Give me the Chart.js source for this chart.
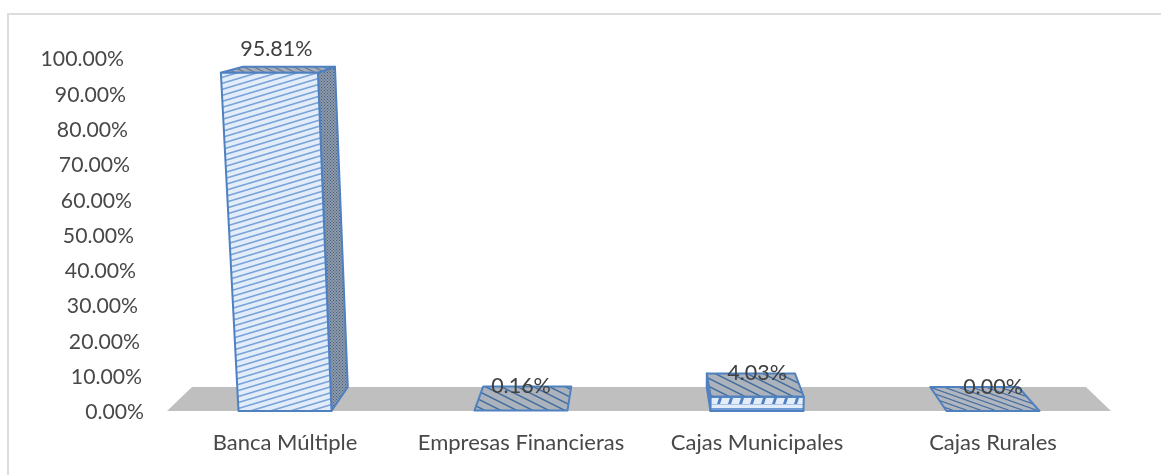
<!DOCTYPE html>
<html><head><meta charset="utf-8">
<style>html,body{margin:0;padding:0;background:#fff}
#wrap{position:absolute;left:0;top:0;width:1161px;height:475px}
#frame{position:absolute;left:7px;top:13px;width:1154px;height:462px;border-left:2px solid #dcdcdc;border-top:2px solid #dcdcdc;box-sizing:border-box}
canvas{position:absolute;left:0;top:0}</style>
<script src="https://cdn.jsdelivr.net/npm/chart.js@4/dist/chart.umd.js"></script>
</head><body><div id="wrap"><div id="frame"></div><canvas id="c" width="1161" height="475"></canvas></div>
<script>
const categories = ["Banca Múltiple","Empresas Financieras","Cajas Municipales","Cajas Rurales"];
const shares = [95.81,0.16,4.03,0.00];
const shareLabels = ["95.81%","0.16%","4.03%","0.00%"];

const BLUE='#4f81c0';
function rgb(h){return [1,3,5].map(i=>parseInt(h.slice(i,i+2),16));}
// Anti-aliased diagonal hatch tile; dir=+1 rises to the right, dir=-1 falls to the right.
function hatch(w,h,dir,col,bg,lw){
  const c=document.createElement('canvas');c.width=w;c.height=h;
  const g=c.getContext('2d'),img=g.createImageData(w,h),C=rgb(col),B=rgb(bg);
  for(let x=0;x<w;x++)for(let y=0;y<h;y++){
    let d=((y+0.5+dir*(x+0.5)*h/w)%h+h)%h; d=Math.min(d,h-d);
    const a=Math.max(0,Math.min(1,lw/2+0.5-d));
    const i=(y*w+x)*4;
    for(let k=0;k<3;k++)img.data[i+k]=B[k]+(C[k]-B[k])*a;
    img.data[i+3]=255;
  }
  g.putImageData(img,0,0);return c;
}
function dots(s,col,bg){
  const c=document.createElement('canvas');c.width=s;c.height=s;
  const g=c.getContext('2d');g.fillStyle=bg;g.fillRect(0,0,s,s);
  g.fillStyle=col;g.fillRect(0,0,1,1);g.fillRect(s/2,s/2,1,1);return c;
}
function brick(){
  const c=document.createElement('canvas');c.width=11;c.height=12;
  const g=c.getContext('2d');g.fillStyle='#e3ecf9';g.fillRect(0,0,11,12);
  g.fillStyle='#6f9bd4';g.fillRect(0,0,11,2);
  g.fillStyle='#4f81c0';g.beginPath();g.moveTo(4,2);g.lineTo(7,2);g.lineTo(5,8);g.lineTo(2,8);g.closePath();g.fill();
  g.fillStyle='#a9c3e6';g.fillRect(0,8,11,1);
  return c;
}

const VX=639, VY=-42, DEPTH=0.947, FLARE=0.046;
const scene3d={
  id:'scene3d',
  beforeDatasetsDraw(chart){
    const a=chart.chartArea,ctx=chart.ctx;
    const back=p=>[VX+(p[0]-VX)*DEPTH,VY+(p[1]-VY)*DEPTH];
    const fl=[a.left,a.bottom],fr=[a.right,a.bottom],bl=back(fl),br=back(fr);
    ctx.save();ctx.fillStyle='#bfbfbf';ctx.beginPath();
    ctx.moveTo(...fl);ctx.lineTo(...fr);ctx.lineTo(...br);ctx.lineTo(...bl);ctx.closePath();ctx.fill();ctx.restore();
  },
  beforeDatasetDraw(chart,args){
    const ctx=chart.ctx,a=chart.chartArea,meta=args.meta,H=a.bottom-a.top;
    const front=(x,y)=>{const s=1+FLARE*(a.bottom-y)/H;return [VX+(x-VX)*s,y];};
    const back=p=>[VX+(p[0]-VX)*DEPTH,VY+(p[1]-VY)*DEPTH];
    const quad=(pts,fill)=>{
      ctx.beginPath();ctx.moveTo(...pts[0]);for(let i=1;i<pts.length;i++)ctx.lineTo(...pts[i]);ctx.closePath();
      ctx.fillStyle=fill;ctx.fill();ctx.strokeStyle=BLUE;ctx.lineWidth=2;ctx.lineJoin='round';ctx.stroke();
    };
    const P=c=>ctx.createPattern(c,'repeat');
    const pFront=P(hatch(20,6,1,'#7ba5da','#e3ecf9',1.7));
    const pSide=P(dots(3,'#3f5f8f','#8f98a5'));
    const pTop=P(hatch(10,5,-1,'#6f7f94','#a4adb9',1.5));
    const pTile=P(hatch(16,8,-1,'#456f9f','#abb2bc',1.7));
    const pTileDense=P(hatch(14,5,-1,'#4a6f9f','#b0b6bf',1.3));
    const pBrick=P(brick());
    ctx.save();
    meta.data.forEach((el,i)=>{
      const l=el.x-el.width/2,r=el.x+el.width/2,b=el.base,t=el.y;
      const A=front(l,b),B=front(r,b),C=front(r,t),D=front(l,t);
      const bA=back(A),bB=back(B),bC=back(C),bD=back(D);
      const tall=b-t>100, low=b-t>4;
      if(el.x<VX&&low) quad([B,bB,bC,C],pSide);
      else if(low) quad([A,bA,bD,D],pSide);
      quad([D,C,bC,bD],tall?pTop:(b-t<0.01?pTileDense:pTile));
      if(b-t>1) quad([A,B,C,D],tall?pFront:pBrick);
    });
    ctx.fillStyle='#404040';ctx.font='21.5px Lato, sans-serif';ctx.textAlign='center';ctx.textBaseline='middle';
    meta.data.forEach((el,i)=>{
      const top=front(el.x,el.y),backTop=back(top);
      const x=el.x+(top[0]-el.x)*0.55;
      ctx.fillText(shareLabels[i],x,backTop[1]-18*shares[i]/100);
    });
    ctx.restore();
    return false;
  }
};

Chart.defaults.font.family='Lato, sans-serif';
new Chart(document.getElementById('c'),{
  type:'bar',
  data:{labels:categories,datasets:[{label:'Participación',data:shares,backgroundColor:'#e3ecf9',borderColor:BLUE,borderWidth:2,barPercentage:0.394,categoryPercentage:1}]},
  options:{
    responsive:false,animation:false,
    layout:{padding:{left:0,right:50,top:58,bottom:0}},
    plugins:{legend:{display:false},tooltip:{enabled:false},title:{display:false}},
    scales:{
      x:{grid:{display:false},border:{display:false},
         afterFit(s){s.height=64;},
         ticks:{color:'#484848',font:{size:22},padding:11,maxRotation:0,autoSkip:false}},
      y:{min:0,max:100,grid:{display:false},border:{display:false},
         afterFit(s){
           s.width=167;
           if(s._slanted) return;
           s._slanted=true;
           // tick labels follow the slant of the 3D wall
           const orig=s._computeLabelItems.bind(s);
           s._computeLabelItems=ca=>orig(ca).map(it=>{
             const [x,y]=it.options.translation;
             it.options.translation=[x-20*(s.bottom-y)/(s.bottom-s.top),y+1.5];
             return it;});
         },
         ticks:{stepSize:10,color:'#484848',font:{size:21.2},padding:15,callback:v=>v.toFixed(2)+'%'}}
    }
  },
  plugins:[scene3d]
});
</script></body></html>
